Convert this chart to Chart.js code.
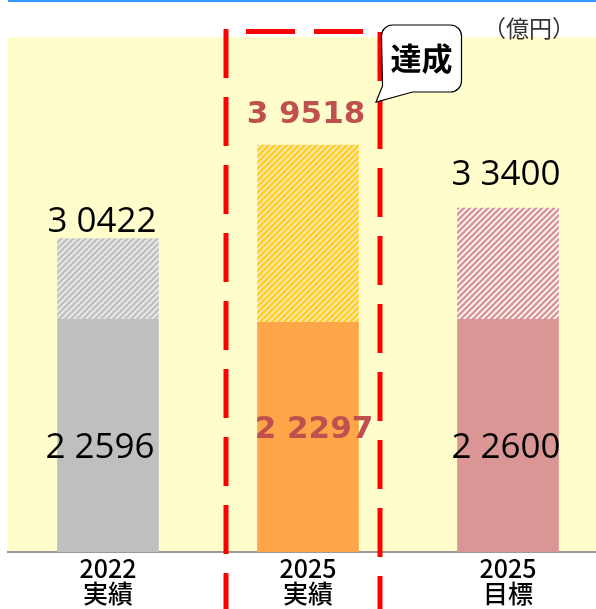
<!DOCTYPE html>
<html lang="ja">
<head>
<meta charset="utf-8">
<title>売上高</title>
<script src="https://cdn.jsdelivr.net/npm/chart.js@4/dist/chart.umd.min.js"></script>
<style>
  html, body { margin: 0; padding: 0; background: #ffffff; }
  #wrap { position: relative; width: 596px; height: 609px; overflow: hidden; }
</style>
</head>
<body>
<div id="wrap"><canvas id="chart" width="596" height="609"></canvas></div>
<script>
// 区分（年度・実績/目標）
const categories = [['2022', '実績'], ['2025', '実績'], ['2025', '目標']];
// 下段の金額（億円）
const baseValues = [22596, 22297, 22600];
// 合計金額（億円）
const totalValues = [30422, 39518, 33400];
// 上段＝合計−下段
const upperValues = totalValues.map((t, i) => t - baseValues[i]);
const unitLabel = '（億円）';
const calloutText = '達成';

const baseColors = ['#BFBFBF', '#FFA54A', '#D99694'];
const stripeColors = [
  ['#ECECEC', '#C2C2C2'],
  ['#FBE4CF', '#FFD21A'],
  ['#FFFFFF', '#D99694']
];
const highlightIndex = 1;

// 「3 0422」のように兆と億の間に空白を入れる
function fmt(v) {
  const hi = Math.floor(v / 10000);
  const lo = String(v % 10000).padStart(4, '0');
  return hi + ' ' + lo;
}

function stripes(bg, fg) {
  const s = 6;
  const c = document.createElement('canvas');
  c.width = s; c.height = s;
  const g = c.getContext('2d');
  g.fillStyle = bg; g.fillRect(0, 0, s, s);
  g.strokeStyle = fg; g.lineWidth = 2.6;
  g.beginPath();
  g.moveTo(-1, s + 1); g.lineTo(s + 1, -1);
  g.moveTo(-1, 1); g.lineTo(1, -1);
  g.moveTo(s - 1, s + 1); g.lineTo(s + 1, s - 1);
  g.stroke();
  return g.createPattern(c, 'repeat');
}
const upperFills = stripeColors.map(p => stripes(p[0], p[1]));

const frame = {
  id: 'frame',
  beforeDraw(chart) {
    const { ctx, chartArea: a } = chart;
    ctx.save();
    ctx.fillStyle = '#FFFDCB';
    ctx.fillRect(a.left, a.top, a.right - a.left, a.bottom - a.top);
    ctx.fillStyle = '#3399FF';
    ctx.fillRect(a.left, 0, a.right - a.left, 2);
    ctx.restore();
  }
};

const valueLabels = {
  id: 'valueLabels',
  afterDatasetsDraw(chart, args, opts) {
    const { ctx, chartArea: a } = chart;
    const top = chart.getDatasetMeta(1).data;
    ctx.save();
    ctx.textAlign = 'center';
    ctx.textBaseline = 'alphabetic';
    totalValues.forEach((v, i) => {
      const hl = i === highlightIndex;
      ctx.fillStyle = hl ? '#C0504D' : '#000000';
      ctx.font = hl ? 'bold 31px "DejaVu Sans"' : '35px "Open Sans"';
      const el = top[i];
      ctx.fillText(fmt(v), el.x + opts.totalDx[i], el.y - opts.totalGap[i]);
      ctx.fillText(fmt(baseValues[i]), el.x + opts.baseDx[i], a.bottom - opts.baseRise[i]);
    });
    ctx.restore();
  }
};

const highlight = {
  id: 'highlight',
  afterDraw(chart) {
    const { ctx, chartArea: a, scales: { x } } = chart;
    const cx = x.getPixelForValue(highlightIndex);
    const left = cx - 82, right = cx + 72, topY = a.top - 5.5;
    ctx.save();
    ctx.strokeStyle = '#FF0000';
    ctx.lineWidth = 5;
    ctx.setLineDash([49, 19]);
    ctx.beginPath();
    ctx.moveTo(left, topY - 2.5); ctx.lineTo(left, chart.height + 10);
    ctx.stroke();
    ctx.beginPath();
    ctx.moveTo(right, topY + 0.5); ctx.lineTo(right, chart.height + 10);
    ctx.stroke();
    ctx.beginPath();
    ctx.moveTo(left + 20, topY); ctx.lineTo(right - 2, topY);
    ctx.stroke();
    ctx.setLineDash([]);

    // 吹き出し
    const bx0 = right + 1.5, bx1 = bx0 + 80, by0 = 25, by1 = 92, r = 11;
    ctx.beginPath();
    ctx.moveTo(bx0 + r, by0);
    ctx.lineTo(bx1 - r, by0);
    ctx.arcTo(bx1, by0, bx1, by0 + r, r);
    ctx.lineTo(bx1, by1 - r);
    ctx.arcTo(bx1, by1, bx1 - r, by1, r);
    ctx.lineTo(bx0 + 31, by1);
    ctx.lineTo(right - 4, 102);
    ctx.lineTo(bx0 + 1, by1 - 6);
    ctx.lineTo(bx0, by0 + r);
    ctx.arcTo(bx0, by0, bx0 + r, by0, r);
    ctx.closePath();
    ctx.fillStyle = '#FFFFFF';
    ctx.fill();
    ctx.strokeStyle = '#000000';
    ctx.lineWidth = 1.2;
    ctx.stroke();
    ctx.fillStyle = '#000000';
    ctx.font = 'bold 31px "Noto Sans CJK JP"';
    ctx.textAlign = 'center';
    ctx.textBaseline = 'middle';
    ctx.fillText(calloutText, (bx0 + bx1) / 2, 58);

    // 単位
    ctx.fillStyle = '#333333';
    ctx.font = '23px "Noto Sans CJK JP"';
    ctx.textBaseline = 'middle';
    ctx.textAlign = 'left';
    ctx.fillText(unitLabel, 483, 28);
    ctx.restore();
  }
};

new Chart(document.getElementById('chart'), {
  type: 'bar',
  data: {
    datasets: [
      {
        data: baseValues.map((v, i) => ({ x: i, y: v })),
        backgroundColor: baseColors,
        borderWidth: 0,
        barThickness: 101
      },
      {
        data: upperValues.map((v, i) => ({ x: i, y: v })),
        backgroundColor: upperFills,
        borderWidth: 0,
        barThickness: 101
      }
    ]
  },
  options: {
    responsive: false,
    animation: false,
    events: [],
    layout: { padding: { left: 8, top: 37, right: 0, bottom: 0 } },
    plugins: {
      legend: { display: false },
      tooltip: { enabled: false },
      valueLabels: {
        totalDx: [-6, -2, -2],
        totalGap: [7, 22, 23],
        baseDx: [-8, 6, -2],
        baseRise: [94, 114, 94]
      }
    },
    scales: {
      x: {
        type: 'linear',
        stacked: true,
        offset: false,
        min: -0.5,
        max: 2.44,
        afterBuildTicks: s => { s.ticks = categories.map((c, i) => ({ value: i })); },
        afterFit: s => { s.height = 57; },
        grid: { display: false, drawTicks: false },
        border: { display: true, color: '#999999', width: 2 },
        ticks: {
          autoSkip: false,
          maxRotation: 0,
          padding: 4,
          color: '#000000',
          font: { family: '"Noto Sans CJK JP"', size: 25, weight: 500, lineHeight: 1.0 },
          callback: v => categories[v]
        }
      },
      y: {
        display: false,
        stacked: true,
        min: 0,
        max: 50000
      }
    }
  },
  plugins: [frame, valueLabels, highlight]
});
</script>
</body>
</html>
